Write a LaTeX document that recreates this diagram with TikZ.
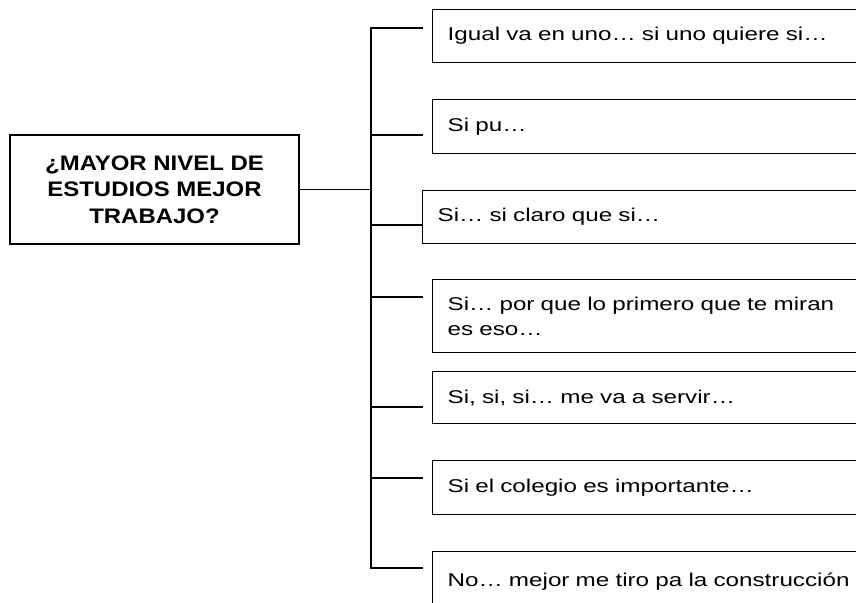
\documentclass[tikz,border=0pt]{standalone}
\usepackage{fontspec}
\setmainfont{Liberation Sans}
% wide faces, like the bitmap font of the original
\newfontfamily\ansfont[FakeStretch=1.31]{Liberation Sans}
\newfontfamily\titfont[FakeStretch=1.14]{Liberation Sans}

\begin{document}
\begin{tikzpicture}[x=1pt,y=-1pt,
	pregunta/.style={draw,line width=1.2pt,minimum width=289pt,minimum height=109pt,align=center,
		font=\titfont\bfseries\fontsize{21}{26.5}\selectfont},
	respuesta/.style={draw,line width=1.2pt,anchor=north west,text width=430pt,inner xsep=15pt,align=left,
		font=\ansfont\fontsize{18.5}{25}\selectfont},
	rama/.style={line width=1.2pt}]
				% picture window, the answer boxes run past its right edge
				\clip (0,0) rectangle (856,602);
				
				% question box
				\node[pregunta] (preg) at (154.5,189.5) {¿MAYOR NIVEL DE\\ESTUDIOS MEJOR\\TRABAJO?};
				
				% answer boxes
				\node[respuesta,minimum height=53pt] (r1) at (432,9) {Igual va en uno… si uno quiere si…};
				\node[respuesta,minimum height=54pt] (r2) at (432,99) {Si pu…};
				\node[respuesta,minimum height=53pt] (r3) at (422,190) {Si… si claro que si…};
				\node[respuesta,minimum height=73pt] (r4) at (432,279) {Si… por que lo primero que te miran\\es eso…};
				\node[respuesta,minimum height=52pt] (r5) at (432,371) {Si, si, si… me va a servir…};
				\node[respuesta,minimum height=54pt] (r6) at (432,460) {Si el colegio es importante…};
				\node[respuesta,minimum height=60pt] (r7) at (432,551) {No… mejor me tiro pa la construcción};
				
				% ends of the branches, just left of each box
				\foreach \n/\y in {1/28,2/135,3/225,4/297,5/407,6/478,7/568}
					\coordinate (e\n) at (423,\y);
				\coordinate (tronco) at (371,189.5);
				
				% trunk with first and last branch
				\draw[rama] (preg.east) -- (tronco);
				\draw[rama] (e1) -- (e1 -| tronco) -- (e7 -| tronco) -- (e7);
				% the other branches
				\foreach \n in {2,...,6}
					\draw[rama] (e\n -| tronco) -- (e\n);
				
\end{tikzpicture}
\end{document}
